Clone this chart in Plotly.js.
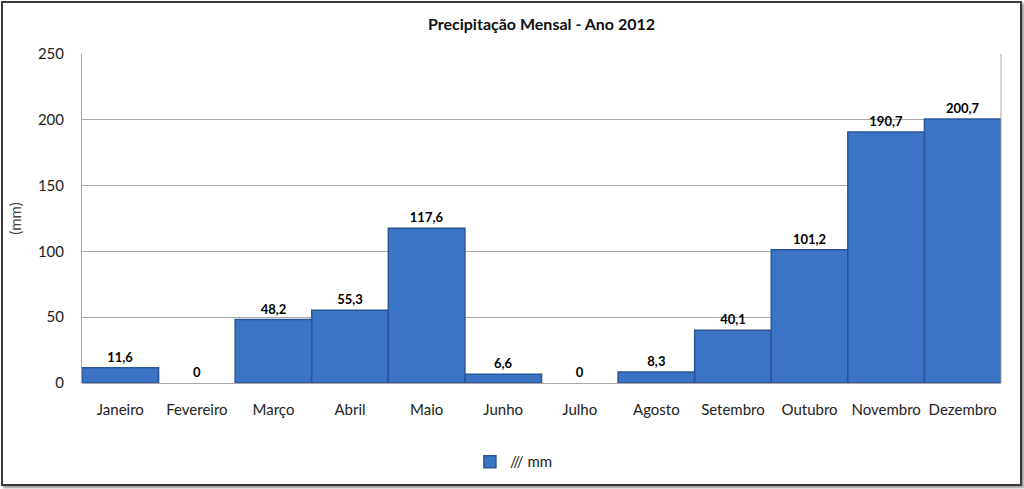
<!DOCTYPE html>
<html>
<head>
<meta charset="utf-8">
<script src="https://cdn.plot.ly/plotly-3.0.1.min.js"></script>
<style>
  body { margin: 0; background: #ffffff; }
  #wrap { position: relative; width: 1024px; height: 489px; }
  #chart { position: absolute; left: 0; top: 0; width: 1024px; height: 489px; }
  #frame { position: absolute; left: 1px; top: 1px; width: 1017px; height: 481px;
           border: 2px solid #3a3a3a; box-shadow: 2px 2px 2px #9a9a9a; pointer-events: none; }
</style>
</head>
<body>
<div id="wrap">
  <div id="chart"></div>
  <div id="frame"></div>
</div>
<script>
const months = ["Janeiro", "Fevereiro", "Março", "Abril", "Maio", "Junho", "Julho", "Agosto", "Setembro", "Outubro", "Novembro", "Dezembro"];
const precip = [11.6, 0, 48.2, 55.3, 117.6, 6.6, 0, 8.3, 40.1, 101.2, 190.7, 200.7];
const labels = ["11,6", "0", "48,2", "55,3", "117,6", "6,6", "0", "8,3", "40,1", "101,2", "190,7", "200,7"];
const yTicks = [0, 50, 100, 150, 200, 250];
const seriesName = "/// mm";
const chartTitle = "Precipitação Mensal - Ano 2012";
const yTitle = "(mm)";

const font = "Lato, 'Open Sans', 'DejaVu Sans', sans-serif";

const trace = {
  type: "bar",
  x: months,
  y: precip,
  name: seriesName,
  text: labels,
  textposition: "outside",
  cliponaxis: false,
  textfont: { family: font, size: 13, color: "#000000", weight: "bold" },
  marker: { color: "#3B74C4", line: { color: "#2A5596", width: precip.map(v => v > 0 ? 1.5 : 0) } },
  showlegend: true
};

const layout = {
  width: 1024,
  height: 489,
  margin: { l: 82, r: 23, t: 54, b: 105 },
  paper_bgcolor: "#ffffff",
  plot_bgcolor: "#ffffff",
  bargap: 0,
  font: { family: font, size: 14, color: "#222222" },
  title: {
    text: chartTitle,
    x: 0.5, xref: "paper", xanchor: "center",
    y: 1, yref: "container", yanchor: "top", pad: { t: 19 },
    font: { family: font, size: 16, color: "#111111", weight: "bold" }
  },
  xaxis: {
    type: "category",
    tickfont: { family: font, size: 15, color: "#222222" },
    showline: false,
    showgrid: false,
    ticks: "",
    ticklen: 0,
    ticklabelstandoff: 16,
    fixedrange: true
  },
  yaxis: {
    range: [0, 250],
    tickvals: yTicks,
    ticktext: yTicks.map(String),
    tickfont: { family: font, size: 15, color: "#222222" },
    showgrid: true,
    gridcolor: "#a8a8a8",
    gridwidth: 1,
    showline: true,
    linecolor: "#a8a8a8",
    linewidth: 1,
    zeroline: true,
    zerolinecolor: "#a8a8a8",
    zerolinewidth: 1,
    ticks: "",
    ticklabelstandoff: 14,
    title: { text: yTitle, standoff: 12, font: { family: font, size: 15, color: "#444444" } },
    fixedrange: true
  },
  legend: {
    orientation: "h",
    x: 0.47, xanchor: "center",
    y: -0.236, yanchor: "middle",
    font: { family: font, size: 15, color: "#222222" },
    itemwidth: 30
  },
  shapes: [
    { type: "line", xref: "paper", yref: "paper", x0: 1, x1: 1, y0: 0, y1: 1, line: { color: "#a8a8a8", width: 1 } }
  ]
};

Plotly.newPlot("chart", [trace], layout, { displayModeBar: false, staticPlot: true });
</script>
</body>
</html>
